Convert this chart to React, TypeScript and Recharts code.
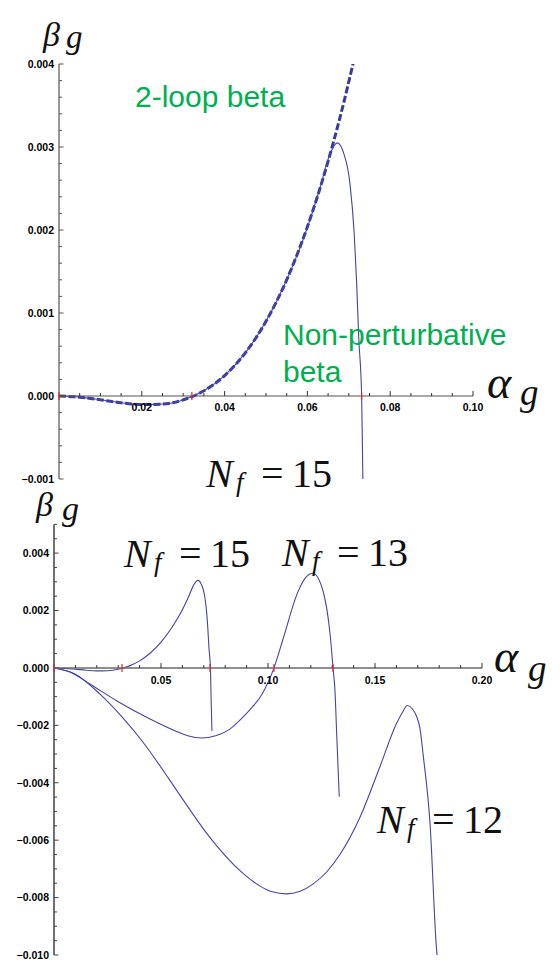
import { LineChart, Line, XAxis, YAxis } from 'recharts';

// beta-function samples (alpha_g, beta_g)
const nf15Alpha = [0, 0.005, 0.01, 0.015, 0.02, 0.025, 0.03, 0.035, 0.04, 0.045, 0.05, 0.055, 0.06, 0.063, 0.0655, 0.0672, 0.0688, 0.0703, 0.0713, 0.0719, 0.0724, 0.0731, 0.0734, 0.0738];
const nf15Beta = [0, -0.000014, -0.000046, -0.000081, -0.000103, -0.000097, -0.000047, 0.000063, 0.000246, 0.00052, 0.0009, 0.0014, 0.00203, 0.0025, 0.00292, 0.00305, 0.00292, 0.00255, 0.00196, 0.00136, 0.0007, 0, -0.001, -0.0022];

const twoLoopAlpha = [0, 0.005, 0.01, 0.015, 0.02, 0.025, 0.03, 0.035, 0.04, 0.045, 0.05, 0.055, 0.06, 0.065, 0.068, 0.0712];
const twoLoopBeta = [0, -0.000014, -0.000046, -0.000081, -0.000103, -0.000097, -0.000047, 0.000063, 0.000246, 0.00052, 0.0009, 0.0014, 0.00204, 0.00283, 0.00338, 0.00404];

const nf13Alpha = [0, 0.0075, 0.0168, 0.0294, 0.0449, 0.0575, 0.0625, 0.069, 0.0755, 0.0822, 0.087, 0.0916, 0.0972, 0.1028, 0.1075, 0.1136, 0.1173, 0.121, 0.1257, 0.129, 0.1304, 0.1313, 0.1322, 0.1333];
const nf13Beta = [0, -0.00014, -0.00056, -0.00115, -0.00178, -0.00222, -0.00236, -0.00244, -0.00236, -0.00213, -0.00181, -0.00145, -0.00092, 0, 0.00112, 0.00258, 0.00312, 0.0033, 0.00268, 0.00118, 0, -0.0008, -0.0025, -0.00449];

const nf12Alpha = [0, 0.0098, 0.0215, 0.0322, 0.0416, 0.0533, 0.0589, 0.0729, 0.0869, 0.0963, 0.102, 0.1085, 0.115, 0.121, 0.1275, 0.1336, 0.143, 0.1523, 0.1601, 0.1628, 0.1651, 0.1675, 0.1695, 0.171, 0.1726, 0.1757, 0.1788, 0.1793];
const nf12Beta = [0, -0.00021, -0.00091, -0.00174, -0.00259, -0.00382, -0.00444, -0.00591, -0.00706, -0.0076, -0.0078, -0.00787, -0.00778, -0.00753, -0.0071, -0.0065, -0.0052, -0.00344, -0.00193, -0.00155, -0.00131, -0.00143, -0.0017, -0.0021, -0.00309, -0.0054, -0.00983, -0.0102];

// axis ticks
const topXMajor = [0.02, 0.04, 0.06, 0.08, 0.1];
const topYMajor = [-0.001, 0, 0.001, 0.002, 0.003, 0.004];
const topZeros = [0, 0.0321, 0.0731];
const bottomXMajor = [0.05, 0.1, 0.15, 0.2];
const bottomYMajor = [-0.01, -0.008, -0.006, -0.004, -0.002, 0, 0.002, 0.004];
const bottomZeros = [0, 0.0318, 0.0729, 0.1028, 0.1304];

const zip = (xs: number[], ys: number[]) => xs.map((a, i) => ({ a, b: ys[i] }));
const nf15 = zip(nf15Alpha, nf15Beta);
const twoLoop = zip(twoLoopAlpha, twoLoopBeta);
const nf13 = zip(nf13Alpha, nf13Beta);
const nf12 = zip(nf12Alpha, nf12Beta);

const steps = (from: number, to: number, step: number) => {
  const out: number[] = [];
  const n = Math.round((to - from) / step);
  for (let i = 0; i <= n; i++) out.push(+(from + i * step).toFixed(6));
  return out;
};
const near = (list: number[], v: number) => list.some((m) => Math.abs(m - v) < 1e-7);
const uniq = (list: number[]) => Array.from(new Set(list)).sort((p, q) => p - q);

const topXTicks = uniq([...steps(0, 0.1, 0.005), ...topZeros]);
const topYTicks = steps(-0.001, 0.004, 0.0002);
const bottomXTicks = uniq([...steps(0, 0.2, 0.01), ...bottomZeros]);
const bottomYTicks = steps(-0.01, 0.005, 0.0005);

const LINE = '#4545a8';
const SANS = 'Liberation Sans, Arial, sans-serif';
const SERIF = 'Liberation Serif, DejaVu Serif, serif';
const fmtY = (v: number) => (v < -1e-9 ? '\u2212' + Math.abs(v).toFixed(3) : Math.abs(v).toFixed(3));

function TickText({ x, y, anchor, children }: any) {
  return (
    <text x={x} y={y} textAnchor={anchor} fontFamily={SANS} fontWeight={700} fontSize={10.5} fill="#000">
      {children}
    </text>
  );
}

function YTick(props: any) {
  const { x, y, payload, majors, color } = props;
  const major = near(majors, payload.value);
  const ax = x + 5; // axis line sits 5px right of label anchor
  return (
    <g>
      <line x1={ax} x2={ax + (major ? 4.5 : 3)} y1={y} y2={y} stroke={color} strokeWidth={1} />
      {major && (
        <TickText x={x} y={y + 3.8} anchor="end">
          {fmtY(payload.value)}
        </TickText>
      )}
    </g>
  );
}

function XTick(props: any) {
  const { x, y, payload, majors, zeros, labelDy } = props;
  const v = payload.value;
  if (near(zeros, v)) {
    return <line x1={x} x2={x} y1={y - 4} y2={y + 4} stroke="#e8222b" strokeWidth={1.2} />;
  }
  const major = near(majors, v);
  return (
    <g>
      <line x1={x} x2={x} y1={y} y2={y - (major ? 5 : 3)} stroke="#333" strokeWidth={1} />
      {major && (
        <TickText x={x} y={y + labelDy} anchor="middle">
          {v.toFixed(2)}
        </TickText>
      )}
    </g>
  );
}

function TopChart() {
  return (
    <>
      <div style={{ position: 'absolute', left: 0, top: 0 }}>
        <LineChart width={560} height={490} margin={{ top: 64, right: 87, bottom: 11, left: 0 }}>
          <XAxis hide type="number" dataKey="a" domain={[0, 0.1]} allowDataOverflow />
          <YAxis
            type="number"
            domain={[-0.001, 0.004]}
            allowDataOverflow
            width={59}
            ticks={topYTicks}
            interval={0}
            tickSize={0}
            tickMargin={5}
            tickLine={false}
            axisLine={{ stroke: '#555', strokeWidth: 1.2 }}
            tick={(p: any) => <YTick {...p} majors={topYMajor} color="#555" />}
          />
          <Line data={twoLoop} dataKey="b" type="monotone" stroke="#3a3a9c" strokeWidth={3} strokeDasharray="7 2.5" dot={false} isAnimationActive={false} />
          <Line data={nf15} dataKey="b" type="monotone" stroke={LINE} strokeWidth={1.1} dot={false} isAnimationActive={false} />
        </LineChart>
      </div>
      {/* horizontal axis through beta = 0 */}
      <div style={{ position: 'absolute', left: 0, top: 0 }}>
        <LineChart width={560} height={426} data={nf15} margin={{ top: 0, right: 87, bottom: 0, left: 59 }}>
          <XAxis
            type="number"
            dataKey="a"
            domain={[0, 0.1]}
            allowDataOverflow
            height={30}
            ticks={topXTicks}
            interval={0}
            tickSize={0}
            tickMargin={0}
            tickLine={false}
            axisLine={{ stroke: '#555', strokeWidth: 1.2 }}
            tick={(p: any) => <XTick {...p} majors={topXMajor} zeros={topZeros} labelDy={14.5} />}
          />
        </LineChart>
      </div>
    </>
  );
}

function BottomChart() {
  return (
    <>
      <div style={{ position: 'absolute', left: 0, top: 490 }}>
        <LineChart width={560} height={470} margin={{ top: 34.4, right: 78, bottom: 5, left: 0 }}>
          <XAxis hide type="number" dataKey="a" domain={[0, 0.2]} allowDataOverflow />
          <YAxis
            type="number"
            domain={[-0.01, 0.005]}
            allowDataOverflow
            width={54}
            ticks={bottomYTicks}
            interval={0}
            tickSize={0}
            tickMargin={5}
            tickLine={false}
            axisLine={{ stroke: '#111', strokeWidth: 1.2 }}
            tick={(p: any) => <YTick {...p} majors={bottomYMajor} color="#444" />}
          />
          <Line data={nf15} dataKey="b" type="monotone" stroke={LINE} strokeWidth={1.1} dot={false} isAnimationActive={false} />
          <Line data={nf13} dataKey="b" type="monotone" stroke={LINE} strokeWidth={1.1} dot={false} isAnimationActive={false} />
          <Line data={nf12} dataKey="b" type="monotone" stroke={LINE} strokeWidth={1.1} dot={false} isAnimationActive={false} />
        </LineChart>
      </div>
      <div style={{ position: 'absolute', left: 0, top: 490 }}>
        <LineChart width={560} height={208} data={nf13} margin={{ top: 0, right: 78, bottom: 0, left: 54 }}>
          <XAxis
            type="number"
            dataKey="a"
            domain={[0, 0.2]}
            allowDataOverflow
            height={30}
            ticks={bottomXTicks}
            interval={0}
            tickSize={0}
            tickMargin={0}
            tickLine={false}
            axisLine={{ stroke: '#6a6a6a', strokeWidth: 1.6 }}
            tick={(p: any) => <XTick {...p} majors={bottomXMajor} zeros={bottomZeros} labelDy={15.5} />}
          />
        </LineChart>
      </div>
    </>
  );
}

function MathText({ x, y, size, italic = true, children }: any) {
  return (
    <text x={x} y={y} fontFamily={SERIF} fontSize={size} fontStyle={italic ? 'italic' : 'normal'} fill="#111">
      {children}
    </text>
  );
}

function NfLabel({ x, y, n }: { x: number; y: number; n: string }) {
  return (
    <g>
      <MathText x={x} y={y} size={40}>N</MathText>
      <MathText x={x + 30} y={y + 4} size={27}>f</MathText>
      <MathText x={x + 55} y={y} size={40} italic={false}>=</MathText>
      <MathText x={x + 86} y={y} size={40} italic={false}>{n}</MathText>
    </g>
  );
}

function GreenText({ x, y, children }: any) {
  return (
    <text x={x} y={y} fontFamily={SANS} fontSize={30} fill="#00b050">
      {children}
    </text>
  );
}

function Annotations() {
  return (
    <svg width={560} height={960} style={{ position: 'absolute', left: 0, top: 0, pointerEvents: 'none' }}>
      <MathText x={43} y={46} size={34}>β</MathText>
      <MathText x={66} y={48} size={33}>g</MathText>
      <MathText x={487} y={398} size={46}>α</MathText>
      <MathText x={520} y={405} size={37}>g</MathText>

      <MathText x={36} y={516} size={34}>β</MathText>
      <MathText x={62} y={520} size={34}>g</MathText>
      <MathText x={494} y={672} size={46}>α</MathText>
      <MathText x={528} y={681} size={37}>g</MathText>

      <GreenText x={135} y={107}>2-loop beta</GreenText>
      <GreenText x={283} y={345}>Non-perturbative</GreenText>
      <GreenText x={283} y={382}>beta</GreenText>

      <NfLabel x={206} y={487} n="15" />
      <NfLabel x={124} y={567} n="15" />
      <NfLabel x={282} y={566} n="13" />
      <NfLabel x={377} y={833} n="12" />
    </svg>
  );
}

export default function App() {
  return (
    <div style={{ position: 'absolute', left: 0, top: 0, width: 560, height: 960, background: '#fff' }}>
      <TopChart />
      <BottomChart />
      <Annotations />
    </div>
  );
}
